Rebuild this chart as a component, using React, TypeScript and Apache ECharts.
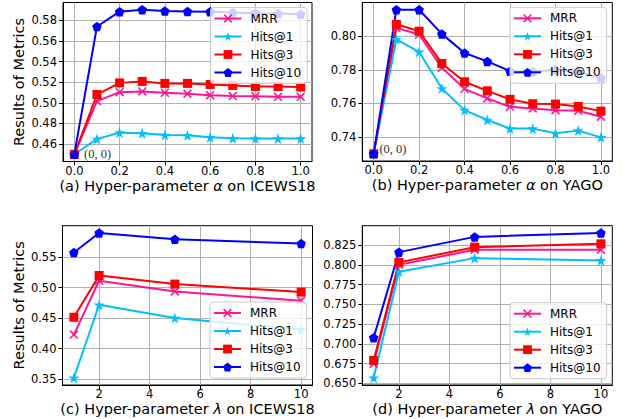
import React, { useEffect, useRef } from 'react';
import * as echarts from 'echarts';

const seriesNames = ['MRR', 'Hits@1', 'Hits@3', 'Hits@10'];
const alphaValues = [0, 0.1, 0.2, 0.3, 0.4, 0.5, 0.6, 0.7, 0.8, 0.9, 1.0];
const lambdaValues = [1, 2, 5, 10];

// (a) alpha on ICEWS18
const icewsAlphaMRR = [0.45, 0.5016, 0.5103, 0.511, 0.5097, 0.5087, 0.5074, 0.5065, 0.5062, 0.5058, 0.5058];
const icewsAlphaH1 = [0.45, 0.4648, 0.471, 0.4704, 0.4687, 0.4684, 0.4665, 0.4655, 0.4652, 0.4652, 0.4652];
const icewsAlphaH3 = [0.45, 0.508, 0.5193, 0.5207, 0.5188, 0.5188, 0.5178, 0.5168, 0.5158, 0.5158, 0.5152];
const icewsAlphaH10 = [0.45, 0.574, 0.5884, 0.5903, 0.589, 0.5887, 0.5884, 0.5875, 0.587, 0.5866, 0.586];

// (b) alpha on YAGO
const yagoAlphaMRR = [0.73, 0.805, 0.801, 0.7812, 0.7687, 0.763, 0.758, 0.757, 0.756, 0.7556, 0.7521];
const yagoAlphaH1 = [0.73, 0.7982, 0.7907, 0.7689, 0.756, 0.7501, 0.745, 0.745, 0.7422, 0.7438, 0.7398];
const yagoAlphaH3 = [0.73, 0.8071, 0.803, 0.7838, 0.7729, 0.7675, 0.7624, 0.7598, 0.7596, 0.7582, 0.7554];
const yagoAlphaH10 = [0.73, 0.8158, 0.8158, 0.8014, 0.79, 0.785, 0.7792, 0.7788, 0.78, 0.7785, 0.7752];

// (c) lambda on ICEWS18
const icewsLambdaMRR = [0.423, 0.5113, 0.4939, 0.4786];
const icewsLambdaH1 = [0.3522, 0.472, 0.4503, 0.4312];
const icewsLambdaH3 = [0.4514, 0.52, 0.5059, 0.4928];
const icewsLambdaH10 = [0.5576, 0.5898, 0.5794, 0.5723];

// (d) lambda on YAGO
const yagoLambdaMRR = [0.6748, 0.8002, 0.8191, 0.8191];
const yagoLambdaH1 = [0.6571, 0.7914, 0.8086, 0.8057];
const yagoLambdaH3 = [0.679, 0.8032, 0.8225, 0.8267];
const yagoLambdaH10 = [0.7079, 0.8162, 0.8355, 0.8405];

// tick labels
const alphaTicks = [0, 0.2, 0.4, 0.6, 0.8, 1.0];
const lambdaTicks = [2, 4, 6, 8, 10];
const yTicksA = [0.46, 0.48, 0.5, 0.52, 0.54, 0.56, 0.58];
const yTicksB = [0.74, 0.76, 0.78, 0.8];
const yTicksC = [0.35, 0.4, 0.45, 0.5, 0.55];
const yTicksD = [0.65, 0.675, 0.7, 0.725, 0.75, 0.775, 0.8, 0.825];

const originLabel = '(0, 0)';

const FONT = 'DejaVu Sans';
const COLORS = ['#ff1493', '#00bfff', '#ff0000', '#0000ff'];
const X_PATH =
  'path://M-0.86,-1.14L1.14,0.86L0.86,1.14L-1.14,-0.86ZM-1.14,0.86L0.86,-1.14L1.14,-0.86L-0.86,1.14Z';
const STAR_PATH =
  'path://M0,-1L0.2245,-0.309L0.951,-0.309L0.3633,0.118L0.5878,0.809L0,0.382L-0.5878,0.809L-0.3633,0.118L-0.951,-0.309L-0.2245,-0.309Z';
const PENT_PATH = 'path://M0,-1L0.951,-0.309L0.588,0.809L-0.588,0.809L-0.951,-0.309Z';
const SYMBOLS = [X_PATH, STAR_PATH, 'rect', PENT_PATH];
const SYMBOL_SIZES = [9, 11, 9, 9.5];

function paddedRange(lists: number[][]) {
  const all = lists.flat();
  const lo = Math.min(...all);
  const hi = Math.max(...all);
  const m = (hi - lo) * 0.05;
  return [lo - m, hi + m];
}

export default function App() {
  const ref = useRef<HTMLDivElement>(null);

  useEffect(() => {
    if (!ref.current) return;
    const chart = echarts.init(ref.current, undefined, { renderer: 'svg' });

    const panels = [
      {
        grid: { left: 63, top: 2.5, width: 249, height: 159 },
        xs: alphaValues,
        ys: [icewsAlphaMRR, icewsAlphaH1, icewsAlphaH3, icewsAlphaH10],
        xRange: [-0.05, 1.05],
        xTicks: alphaTicks,
        xFmt: (v: number) => v.toFixed(1),
        yTicks: yTicksA,
        yFmt: (v: number) => v.toFixed(2),
        xName: '(a) Hyper-parameter {i|α} on ICEWS18',
        yName: 'Results of Metrics',
        legend: { left: 210.5, top: 7.5 },
        origin: [0, 0],
      },
      {
        grid: { left: 362.3, top: 2.5, width: 250, height: 158.5 },
        xs: alphaValues,
        ys: [yagoAlphaMRR, yagoAlphaH1, yagoAlphaH3, yagoAlphaH10],
        xRange: [-0.05, 1.05],
        xTicks: alphaTicks,
        xFmt: (v: number) => v.toFixed(1),
        yTicks: yTicksB,
        yFmt: (v: number) => v.toFixed(2),
        xName: '(b) Hyper-parameter {i|α} on YAGO',
        yName: '',
        legend: { left: 510, top: 7.3 },
        origin: [-4, -5],
      },
      {
        grid: { left: 62.5, top: 225.7, width: 250, height: 159.3 },
        xs: lambdaValues,
        ys: [icewsLambdaMRR, icewsLambdaH1, icewsLambdaH3, icewsLambdaH10],
        xRange: [0.55, 10.45],
        xTicks: lambdaTicks,
        xFmt: (v: number) => String(v),
        yTicks: yTicksC,
        yFmt: (v: number) => v.toFixed(2),
        xName: '(c) Hyper-parameter {i|λ} on ICEWS18',
        yName: 'Results of Metrics',
        legend: { left: 210, top: 302 },
        origin: null,
      },
      {
        grid: { left: 362.3, top: 225.7, width: 250, height: 159.3 },
        xs: lambdaValues,
        ys: [yagoLambdaMRR, yagoLambdaH1, yagoLambdaH3, yagoLambdaH10],
        xRange: [0.55, 10.45],
        xTicks: lambdaTicks,
        xFmt: (v: number) => String(v),
        yTicks: yTicksD,
        yFmt: (v: number) => v.toFixed(3),
        xName: '(d) Hyper-parameter {i|λ} on YAGO',
        yName: '',
        legend: { left: 510, top: 302.7 },
        origin: null,
      },
    ];

    const tickStyle = { show: true, inside: false, length: 4, lineStyle: { color: '#000', width: 1 } };
    const splitStyle = { show: true, lineStyle: { color: '#b0b0b0', width: 1 } };
    const nameStyle = {
      fontFamily: FONT,
      fontSize: 14.5,
      color: '#000',
      lineHeight: 16,
      rich: { i: { fontFamily: FONT, fontSize: 14.5, fontStyle: 'italic', color: '#000', lineHeight: 16 } },
    };

    const grids: any[] = [];
    const xAxes: any[] = [];
    const yAxes: any[] = [];
    const legends: any[] = [];
    const series: any[] = [];

    panels.forEach((p, gi) => {
      grids.push({
        ...p.grid,
        show: true,
        borderColor: '#000',
        borderWidth: 1,
        backgroundColor: 'transparent',
        containLabel: false,
        outerBoundsMode: 'none',
      });
      xAxes.push({
        type: 'value',
        gridIndex: gi,
        min: p.xRange[0],
        max: p.xRange[1],
        axisLine: { show: true, onZero: false, lineStyle: { color: '#000', width: 1 } },
        axisTick: { ...tickStyle, customValues: p.xTicks },
        axisLabel: {
          customValues: p.xTicks,
          formatter: p.xFmt,
          fontFamily: FONT,
          fontSize: 11.5,
          color: '#000',
          margin: 3,
          lineHeight: 12,
        },
        splitLine: splitStyle,
        name: p.xName,
        nameLocation: 'middle',
        nameGap: 16,
        nameTextStyle: nameStyle,
      });
      const [ymin, ymax] = paddedRange(p.ys);
      yAxes.push({
        type: 'value',
        gridIndex: gi,
        min: ymin,
        max: ymax,
        scale: true,
        axisLine: { show: true, onZero: false, lineStyle: { color: '#000', width: 1 } },
        axisTick: { ...tickStyle, customValues: p.yTicks },
        axisLabel: {
          customValues: p.yTicks,
          formatter: p.yFmt,
          fontFamily: FONT,
          fontSize: 11.5,
          color: '#000',
          margin: 6,
        },
        splitLine: splitStyle,
        name: p.yName,
        nameLocation: 'middle',
        nameGap: 34,
        nameTextStyle: nameStyle,
      });
      legends.push({
        orient: 'vertical',
        left: p.legend.left,
        top: p.legend.top,
        z: 20,
        data: seriesNames,
        itemWidth: 27,
        itemHeight: 11,
        itemGap: 4,
        padding: [4, 6, 4, 3],
        backgroundColor: 'rgba(255,255,255,0.8)',
        borderColor: '#cccccc',
        borderWidth: 1,
        borderRadius: 3,
        selectedMode: false,
        textStyle: { fontFamily: FONT, fontSize: 12, color: '#000', lineHeight: 14, padding: [0, 0, 0, 4] },
      });
      seriesNames.forEach((name, si) => {
        const data: any[] = p.xs.map((x, k) => [x, p.ys[si][k]]);
        if (p.origin && si === 3) {
          data[0] = {
            value: data[0],
            label: {
              show: true,
              formatter: originLabel,
              position: 'right',
              offset: p.origin,
              fontFamily: 'Liberation Serif',
              fontSize: 12.5,
              color: '#333',
            },
          };
        }
        series.push({
          type: 'line',
          name,
          xAxisIndex: gi,
          yAxisIndex: gi,
          data,
          symbol: SYMBOLS[si],
          symbolSize: SYMBOL_SIZES[si],
          showSymbol: true,
          showAllSymbol: true,
          lineStyle: { color: COLORS[si], width: 2 },
          itemStyle: { color: COLORS[si], borderWidth: 0 },
          z: 2,
          emphasis: { disabled: true },
          silent: true,
        });
      });
    });

    chart.setOption({
      animation: false,
      backgroundColor: '#fff',
      grid: grids,
      xAxis: xAxes,
      yAxis: yAxes,
      legend: legends,
      series,
    });

    return () => chart.dispose();
  }, []);

  return <div ref={ref} style={{ position: 'absolute', left: 0, top: 0, width: 623, height: 419 }} />;
}
